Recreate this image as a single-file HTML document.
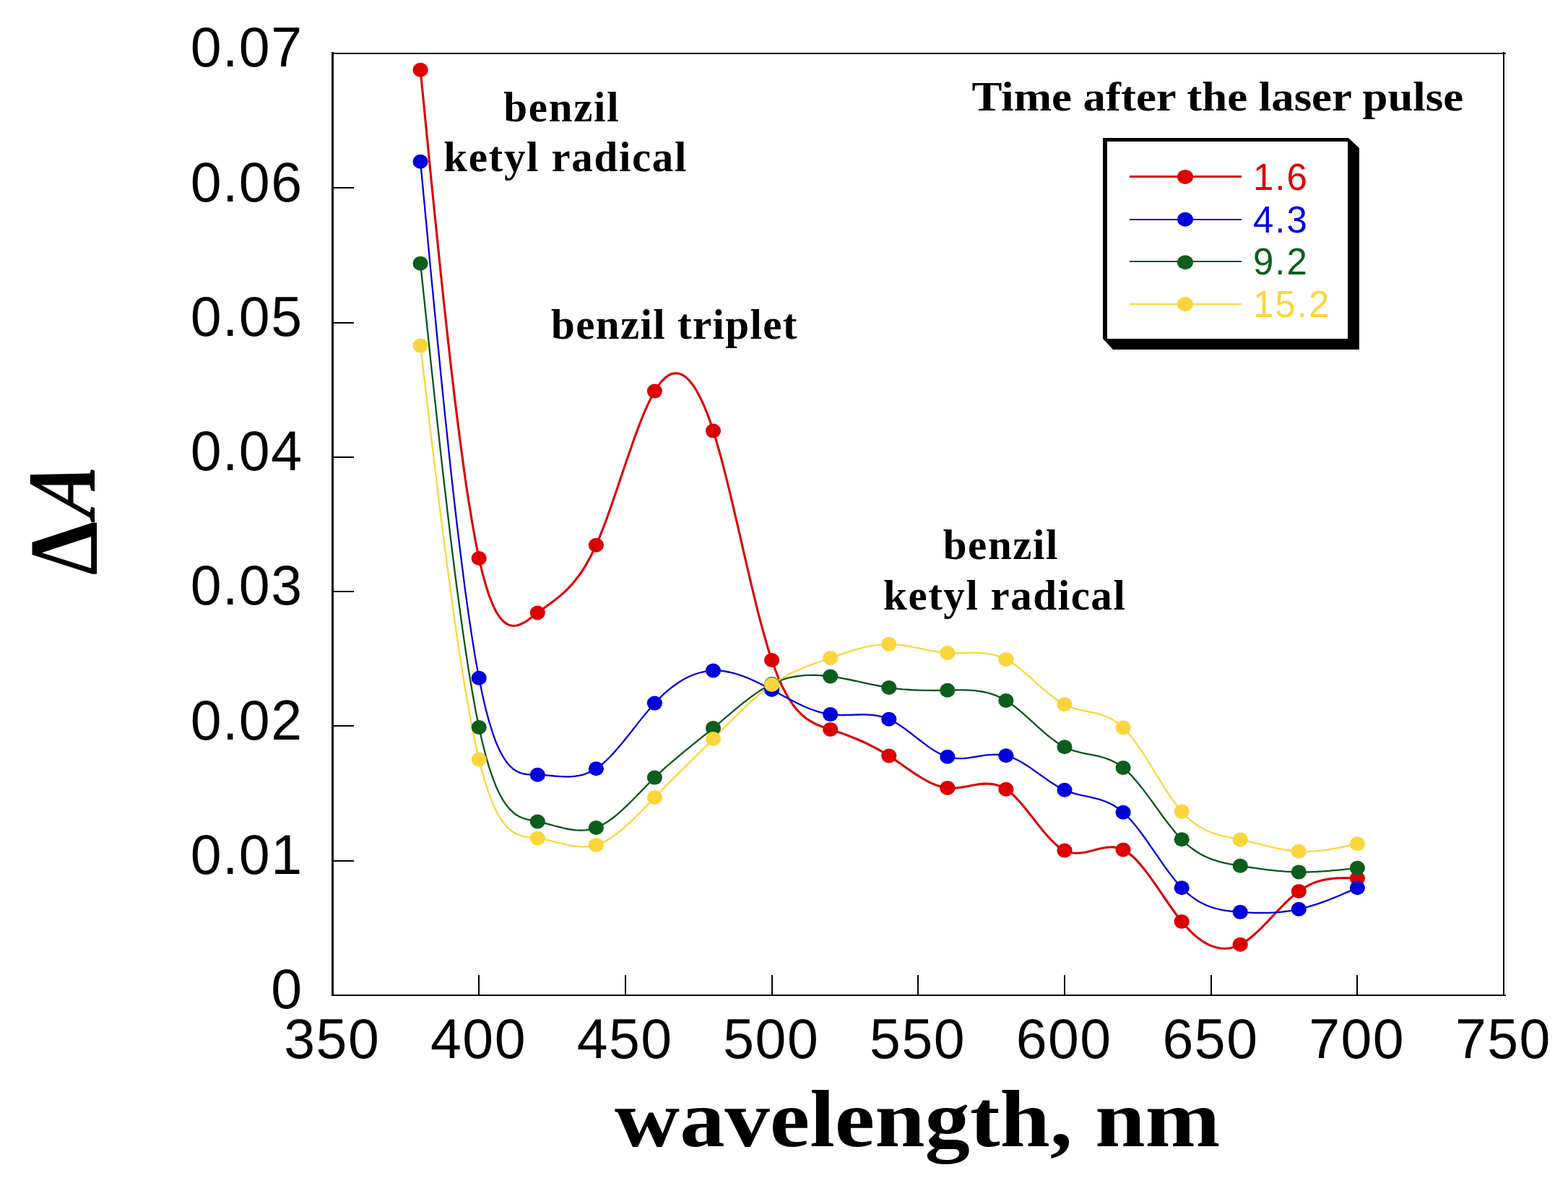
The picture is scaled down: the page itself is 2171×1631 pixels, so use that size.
<!DOCTYPE html>
<html><head><meta charset="utf-8"><title>Transient absorption spectra</title>
<style>
html,body{margin:0;padding:0;background:#fff;}
body{width:2171px;height:1631px;overflow:hidden;}
svg{display:block;}
.sans{font-family:"Liberation Sans",Arial,sans-serif;}
.serif{font-family:"Liberation Serif","Times New Roman",serif;font-weight:bold;}
</style></head><body>
<svg width="2171" height="1631" viewBox="0 0 2171 1631">
<rect x="0" y="0" width="2171" height="1631" fill="#fff"/>

<g fill="#000" shape-rendering="crispEdges">
<rect x="459" y="72" width="3" height="1307"/>
<rect x="459" y="73" width="1626" height="2"/>
<rect x="2081" y="72" width="2" height="1307"/>
<rect x="459" y="1377" width="1626" height="2"/>
<rect x="460" y="1191" width="30" height="2"/>
<rect x="460" y="1004" width="30" height="2"/>
<rect x="460" y="818" width="30" height="2"/>
<rect x="460" y="632" width="30" height="2"/>
<rect x="460" y="446" width="30" height="2"/>
<rect x="460" y="259" width="30" height="2"/>
<rect x="662" y="1350" width="2" height="28"/>
<rect x="865" y="1350" width="2" height="28"/>
<rect x="1068" y="1350" width="2" height="28"/>
<rect x="1270" y="1350" width="2" height="28"/>
<rect x="1473" y="1350" width="2" height="28"/>
<rect x="1676" y="1350" width="2" height="28"/>
<rect x="1878" y="1350" width="2" height="28"/>
</g>
<g class="sans" font-size="77" fill="#000" letter-spacing="1.5">
<text x="419.5" y="1396.3" text-anchor="end">0</text>
<text x="419.5" y="1210.0" text-anchor="end">0.01</text>
<text x="419.5" y="1023.7" text-anchor="end">0.02</text>
<text x="419.5" y="837.4" text-anchor="end">0.03</text>
<text x="419.5" y="651.2" text-anchor="end">0.04</text>
<text x="419.5" y="464.9" text-anchor="end">0.05</text>
<text x="419.5" y="278.6" text-anchor="end">0.06</text>
<text x="419.5" y="92.3" text-anchor="end">0.07</text>
<text x="459.8" y="1465" text-anchor="middle">350</text>
<text x="662.5" y="1465" text-anchor="middle">400</text>
<text x="865.2" y="1465" text-anchor="middle">450</text>
<text x="1067.8" y="1465" text-anchor="middle">500</text>
<text x="1270.6" y="1465" text-anchor="middle">550</text>
<text x="1473.2" y="1465" text-anchor="middle">600</text>
<text x="1676.0" y="1465" text-anchor="middle">650</text>
<text x="1878.7" y="1465" text-anchor="middle">700</text>
<text x="2081.4" y="1465" text-anchor="middle">750</text>
</g>
<text id="wl" class="serif" x="851.1" y="1587.0" font-size="113" textLength="838.3" lengthAdjust="spacingAndGlyphs">wavelength, nm</text>
<text id="dD" class="serif" x="-1.9" y="0" transform="translate(133.8,794.5) rotate(-90) scale(0.88,1.0)" font-size="135">&#916;</text>
<text id="dAA" class="serif" font-style="italic" x="7.0" y="0" transform="translate(130.5,723.8) rotate(-90) skewX(-8) scale(0.8,1.0)" font-size="135">A</text>
<g fill="#000">
<text id="b1" class="serif" x="697.2" y="167.5" font-size="59" textLength="159.4" lengthAdjust="spacing">benzil</text>
<text id="k1" class="serif" x="614.3" y="237.2" font-size="59" textLength="336.0" lengthAdjust="spacing">ketyl radical</text>
<text id="tr" class="serif" x="763.0" y="469.4" font-size="59" textLength="340.4" lengthAdjust="spacing">benzil triplet</text>
<text id="b2" class="serif" x="1305.7" y="774.4" font-size="59" textLength="158.8" lengthAdjust="spacing">benzil</text>
<text id="k2" class="serif" x="1223.1" y="844.1" font-size="59" textLength="334.7" lengthAdjust="spacing">ketyl radical</text>
<text id="ti" class="serif" x="1345.4" y="153.3" font-size="58" textLength="680.8" lengthAdjust="spacingAndGlyphs">Time after the laser pulse</text>
</g>
<polygon points="1527,191 1867,191 1882,205 1882,484 1541,484 1527,469" fill="#000"/>
<rect x="1533" y="196" width="333" height="273" fill="#fff"/>
<line x1="1564" y1="244.5" x2="1719" y2="244.5" stroke="#dc0000" stroke-width="3" shape-rendering="crispEdges"/>
<ellipse cx="1641" cy="244.9" rx="11" ry="10.0" fill="#dc0000"/>
<text class="sans" x="1735" y="263.2" font-size="51" letter-spacing="2" fill="#dc0000">1.6</text>
<line x1="1564" y1="304" x2="1719" y2="304" stroke="#0000dc" stroke-width="2" shape-rendering="crispEdges"/>
<ellipse cx="1641" cy="303.8" rx="11" ry="10.0" fill="#0000dc"/>
<text class="sans" x="1735" y="321.8" font-size="51" letter-spacing="2" fill="#0000dc">4.3</text>
<line x1="1564" y1="362" x2="1719" y2="362" stroke="#055618" stroke-width="2" shape-rendering="crispEdges"/>
<ellipse cx="1641" cy="363.2" rx="11" ry="10.0" fill="#0b5e1c"/>
<text class="sans" x="1735" y="380.2" font-size="51" letter-spacing="2" fill="#0b5e1c">9.2</text>
<line x1="1564" y1="421" x2="1719" y2="421" stroke="#fcd53c" stroke-width="2" shape-rendering="crispEdges"/>
<ellipse cx="1641" cy="421.1" rx="11" ry="10.0" fill="#fcd53c"/>
<text class="sans" x="1735" y="439.2" font-size="51" letter-spacing="2" fill="#fcd53c">15.2</text>
<polyline points="582.1,96.7 586.9,145.4 591.7,193.9 596.4,242.0 601.2,289.6 606.0,336.5 610.7,382.4 615.5,427.2 620.3,470.7 625.0,512.7 629.8,553.0 634.6,591.5 639.4,627.9 644.1,662.2 648.9,694.0 653.7,723.1 658.4,749.6 663.2,773.0 668.0,793.3 672.7,810.7 677.5,825.3 682.3,837.4 687.0,847.1 691.8,854.5 696.6,860.0 701.4,863.7 706.1,865.8 710.9,866.5 715.7,866.0 720.4,864.5 725.2,862.2 730.0,859.2 734.7,855.8 739.5,852.2 744.3,848.5 749.0,844.9 753.8,841.5 758.6,838.0 763.4,834.5 768.1,830.9 772.9,827.1 777.7,823.1 782.4,818.8 787.2,814.1 792.0,808.9 796.7,803.2 801.5,797.0 806.3,790.1 811.1,782.5 815.8,774.1 820.6,764.8 825.4,754.7 830.1,743.6 834.9,731.7 839.7,719.0 844.4,705.8 849.2,692.1 854.0,678.1 858.7,664.0 863.5,649.8 868.3,635.6 873.1,621.7 877.8,608.2 882.6,595.1 887.4,582.6 892.1,570.9 896.9,560.1 901.7,550.3 906.4,541.6 911.2,534.2 916.0,528.1 920.7,523.3 925.5,519.7 930.3,517.5 935.1,516.7 939.8,517.1 944.6,518.9 949.4,522.0 954.1,526.5 958.9,532.4 963.7,539.6 968.4,548.2 973.2,558.2 978.0,569.6 982.8,582.4 987.5,596.6 992.3,612.2 997.1,629.0 1001.8,646.9 1006.6,665.8 1011.4,685.3 1016.1,705.4 1020.9,725.9 1025.7,746.6 1030.4,767.4 1035.2,788.0 1040.0,808.3 1044.8,828.1 1049.5,847.3 1054.3,865.6 1059.1,883.0 1063.8,899.2 1068.6,914.0 1073.4,927.4 1078.1,939.3 1082.9,950.0 1087.7,959.3 1092.4,967.6 1097.2,974.7 1102.0,981.0 1106.8,986.3 1111.5,990.8 1116.3,994.7 1121.1,997.9 1125.8,1000.7 1130.6,1003.0 1135.4,1005.0 1140.1,1006.7 1144.9,1008.4 1149.7,1009.9 1154.4,1011.5 1159.2,1013.1 1164.0,1014.7 1168.8,1016.4 1173.5,1018.2 1178.3,1020.1 1183.1,1022.0 1187.8,1024.0 1192.6,1026.0 1197.4,1028.2 1202.1,1030.5 1206.9,1032.8 1211.7,1035.3 1216.5,1037.9 1221.2,1040.7 1226.0,1043.5 1230.8,1046.5 1235.5,1049.6 1240.3,1052.9 1245.1,1056.2 1249.8,1059.5 1254.6,1062.9 1259.4,1066.2 1264.1,1069.5 1268.9,1072.6 1273.7,1075.6 1278.5,1078.5 1283.2,1081.2 1288.0,1083.6 1292.8,1085.7 1297.5,1087.6 1302.3,1089.1 1307.1,1090.2 1311.8,1090.9 1316.6,1091.2 1321.4,1091.1 1326.1,1090.7 1330.9,1090.1 1335.7,1089.3 1340.5,1088.4 1345.2,1087.5 1350.0,1086.7 1354.8,1085.9 1359.5,1085.4 1364.3,1085.1 1369.1,1085.2 1373.8,1085.6 1378.6,1086.5 1383.4,1088.0 1388.2,1090.0 1392.9,1092.8 1397.7,1096.3 1402.5,1100.4 1407.2,1105.1 1412.0,1110.3 1416.8,1115.8 1421.5,1121.7 1426.3,1127.7 1431.1,1133.8 1435.8,1139.9 1440.6,1145.9 1445.4,1151.8 1450.2,1157.3 1454.9,1162.5 1459.7,1167.2 1464.5,1171.4 1469.2,1174.9 1474.0,1177.6 1478.8,1179.5 1483.5,1180.7 1488.3,1181.3 1493.1,1181.3 1497.8,1180.8 1502.6,1180.0 1507.4,1179.0 1512.2,1177.8 1516.9,1176.5 1521.7,1175.3 1526.5,1174.3 1531.2,1173.4 1536.0,1173.0 1540.8,1172.9 1545.5,1173.5 1550.3,1174.6 1555.1,1176.5 1559.8,1179.2 1564.6,1182.7 1569.4,1186.8 1574.2,1191.6 1578.9,1196.9 1583.7,1202.7 1588.5,1208.9 1593.2,1215.3 1598.0,1222.1 1602.8,1229.0 1607.5,1236.0 1612.3,1243.0 1617.1,1250.0 1621.9,1256.8 1626.6,1263.5 1631.4,1269.9 1636.2,1275.9 1640.9,1281.5 1645.7,1286.7 1650.5,1291.5 1655.2,1295.8 1660.0,1299.6 1664.8,1303.0 1669.5,1305.9 1674.3,1308.4 1679.1,1310.3 1683.9,1311.8 1688.6,1312.8 1693.4,1313.3 1698.2,1313.2 1702.9,1312.7 1707.7,1311.6 1712.5,1310.0 1717.2,1307.8 1722.0,1305.1 1726.8,1301.9 1731.5,1298.3 1736.3,1294.2 1741.1,1289.9 1745.9,1285.3 1750.6,1280.5 1755.4,1275.6 1760.2,1270.5 1764.9,1265.5 1769.7,1260.4 1774.5,1255.5 1779.2,1250.6 1784.0,1246.0 1788.8,1241.6 1793.6,1237.6 1798.3,1233.9 1803.1,1230.6 1807.9,1227.8 1812.6,1225.3 1817.4,1223.1 1822.2,1221.3 1826.9,1219.8 1831.7,1218.6 1836.5,1217.6 1841.2,1216.9 1846.0,1216.3 1850.8,1215.9 1855.6,1215.7 1860.3,1215.6 1865.1,1215.6 1869.9,1215.7 1874.6,1215.8 1879.4,1216.0" fill="none" stroke="#dc0000" stroke-width="3.1" stroke-linejoin="round"/>
<polyline points="582.1,223.7 586.9,274.4 591.7,324.9 596.4,375.1 601.2,424.7 606.0,473.6 610.7,521.6 615.5,568.5 620.3,614.2 625.0,658.4 629.8,701.0 634.6,741.8 639.4,780.6 644.1,817.3 648.9,851.6 653.7,883.4 658.4,912.6 663.2,938.8 668.0,962.0 672.7,982.4 677.5,1000.1 682.3,1015.3 687.0,1028.3 691.8,1039.1 696.6,1047.9 701.4,1055.1 706.1,1060.7 710.9,1064.9 715.7,1068.0 720.4,1070.1 725.2,1071.5 730.0,1072.2 734.7,1072.5 739.5,1072.6 744.3,1072.7 749.0,1072.9 753.8,1073.2 758.6,1073.6 763.4,1074.0 768.1,1074.5 772.9,1074.8 777.7,1075.1 782.4,1075.3 787.2,1075.3 792.0,1075.1 796.7,1074.6 801.5,1073.9 806.3,1072.8 811.1,1071.3 815.8,1069.4 820.6,1067.0 825.4,1064.2 830.1,1060.8 834.9,1057.0 839.7,1052.7 844.4,1048.0 849.2,1042.9 854.0,1037.6 858.7,1032.0 863.5,1026.2 868.3,1020.3 873.1,1014.3 877.8,1008.2 882.6,1002.1 887.4,996.1 892.1,990.2 896.9,984.5 901.7,978.9 906.4,973.6 911.2,968.6 916.0,963.9 920.7,959.4 925.5,955.3 930.3,951.5 935.1,948.0 939.8,944.7 944.6,941.8 949.4,939.1 954.1,936.8 958.9,934.7 963.7,933.0 968.4,931.5 973.2,930.3 978.0,929.4 982.8,928.8 987.5,928.5 992.3,928.5 997.1,928.7 1001.8,929.2 1006.6,930.0 1011.4,931.0 1016.1,932.2 1020.9,933.5 1025.7,935.1 1030.4,936.9 1035.2,938.7 1040.0,940.8 1044.8,942.9 1049.5,945.2 1054.3,947.5 1059.1,950.0 1063.8,952.5 1068.6,955.0 1073.4,957.6 1078.1,960.1 1082.9,962.7 1087.7,965.3 1092.4,967.8 1097.2,970.3 1102.0,972.7 1106.8,975.0 1111.5,977.2 1116.3,979.3 1121.1,981.2 1125.8,983.0 1130.6,984.7 1135.4,986.1 1140.1,987.3 1144.9,988.3 1149.7,989.1 1154.4,989.6 1159.2,989.9 1164.0,990.1 1168.8,990.0 1173.5,989.9 1178.3,989.8 1183.1,989.6 1187.8,989.5 1192.6,989.4 1197.4,989.4 1202.1,989.6 1206.9,989.9 1211.7,990.5 1216.5,991.3 1221.2,992.4 1226.0,993.9 1230.8,995.8 1235.5,998.1 1240.3,1000.7 1245.1,1003.7 1249.8,1006.9 1254.6,1010.3 1259.4,1013.9 1264.1,1017.6 1268.9,1021.3 1273.7,1025.0 1278.5,1028.7 1283.2,1032.2 1288.0,1035.6 1292.8,1038.7 1297.5,1041.5 1302.3,1044.0 1307.1,1046.1 1311.8,1047.8 1316.6,1049.0 1321.4,1049.7 1326.1,1050.1 1330.9,1050.1 1335.7,1049.8 1340.5,1049.3 1345.2,1048.7 1350.0,1048.0 1354.8,1047.2 1359.5,1046.4 1364.3,1045.7 1369.1,1045.2 1373.8,1044.8 1378.6,1044.6 1383.4,1044.8 1388.2,1045.3 1392.9,1046.2 1397.7,1047.6 1402.5,1049.4 1407.2,1051.5 1412.0,1054.0 1416.8,1056.8 1421.5,1059.8 1426.3,1062.9 1431.1,1066.2 1435.8,1069.6 1440.6,1073.0 1445.4,1076.4 1450.2,1079.8 1454.9,1083.0 1459.7,1086.0 1464.5,1088.9 1469.2,1091.5 1474.0,1093.8 1478.8,1095.8 1483.5,1097.4 1488.3,1098.8 1493.1,1100.1 1497.8,1101.2 1502.6,1102.2 1507.4,1103.2 1512.2,1104.3 1516.9,1105.4 1521.7,1106.7 1526.5,1108.2 1531.2,1110.0 1536.0,1112.1 1540.8,1114.5 1545.5,1117.4 1550.3,1120.8 1555.1,1124.7 1559.8,1129.2 1564.6,1134.2 1569.4,1139.7 1574.2,1145.6 1578.9,1151.8 1583.7,1158.3 1588.5,1165.0 1593.2,1171.9 1598.0,1178.8 1602.8,1185.7 1607.5,1192.6 1612.3,1199.4 1617.1,1206.0 1621.9,1212.3 1626.6,1218.3 1631.4,1224.0 1636.2,1229.2 1640.9,1233.9 1645.7,1238.1 1650.5,1241.9 1655.2,1245.3 1660.0,1248.2 1664.8,1250.8 1669.5,1253.1 1674.3,1255.0 1679.1,1256.6 1683.9,1258.0 1688.6,1259.2 1693.4,1260.1 1698.2,1260.9 1702.9,1261.5 1707.7,1262.0 1712.5,1262.5 1717.2,1262.8 1722.0,1263.1 1726.8,1263.4 1731.5,1263.6 1736.3,1263.8 1741.1,1263.9 1745.9,1263.9 1750.6,1263.9 1755.4,1263.8 1760.2,1263.6 1764.9,1263.4 1769.7,1263.0 1774.5,1262.6 1779.2,1262.0 1784.0,1261.4 1788.8,1260.6 1793.6,1259.8 1798.3,1258.8 1803.1,1257.7 1807.9,1256.5 1812.6,1255.2 1817.4,1253.7 1822.2,1252.2 1826.9,1250.6 1831.7,1248.9 1836.5,1247.1 1841.2,1245.3 1846.0,1243.4 1850.8,1241.5 1855.6,1239.5 1860.3,1237.5 1865.1,1235.4 1869.9,1233.4 1874.6,1231.3 1879.4,1229.2" fill="none" stroke="#0000dc" stroke-width="2.3" stroke-linejoin="round"/>
<polyline points="582.1,364.7 586.9,410.1 591.7,455.3 596.4,500.3 601.2,544.7 606.0,588.5 610.7,631.5 615.5,673.6 620.3,714.5 625.0,754.2 629.8,792.5 634.6,829.2 639.4,864.1 644.1,897.1 648.9,928.1 653.7,956.8 658.4,983.2 663.2,1007.0 668.0,1028.2 672.7,1046.8 677.5,1063.1 682.3,1077.2 687.0,1089.3 691.8,1099.5 696.6,1108.1 701.4,1115.1 706.1,1120.7 710.9,1125.2 715.7,1128.7 720.4,1131.3 725.2,1133.2 730.0,1134.6 734.7,1135.7 739.5,1136.6 744.3,1137.5 749.0,1138.5 753.8,1139.7 758.6,1140.9 763.4,1142.2 768.1,1143.5 772.9,1144.7 777.7,1145.9 782.4,1147.0 787.2,1148.0 792.0,1148.7 796.7,1149.3 801.5,1149.6 806.3,1149.6 811.1,1149.3 815.8,1148.6 820.6,1147.5 825.4,1146.0 830.1,1144.0 834.9,1141.6 839.7,1138.7 844.4,1135.5 849.2,1132.0 854.0,1128.1 858.7,1124.0 863.5,1119.7 868.3,1115.2 873.1,1110.5 877.8,1105.7 882.6,1100.8 887.4,1095.9 892.1,1091.0 896.9,1086.1 901.7,1081.3 906.4,1076.6 911.2,1072.0 916.0,1067.6 920.7,1063.2 925.5,1059.0 930.3,1054.8 935.1,1050.8 939.8,1046.8 944.6,1042.8 949.4,1038.9 954.1,1035.1 958.9,1031.2 963.7,1027.4 968.4,1023.6 973.2,1019.7 978.0,1015.8 982.8,1011.9 987.5,1008.0 992.3,1004.0 997.1,1000.0 1001.8,995.9 1006.6,991.8 1011.4,987.8 1016.1,983.8 1020.9,979.8 1025.7,975.9 1030.4,972.1 1035.2,968.4 1040.0,964.8 1044.8,961.4 1049.5,958.1 1054.3,955.0 1059.1,952.1 1063.8,949.4 1068.6,947.0 1073.4,944.8 1078.1,942.9 1082.9,941.2 1087.7,939.7 1092.4,938.4 1097.2,937.3 1102.0,936.5 1106.8,935.8 1111.5,935.3 1116.3,934.9 1121.1,934.8 1125.8,934.7 1130.6,934.9 1135.4,935.1 1140.1,935.5 1144.9,935.9 1149.7,936.5 1154.4,937.2 1159.2,937.9 1164.0,938.7 1168.8,939.6 1173.5,940.5 1178.3,941.5 1183.1,942.5 1187.8,943.5 1192.6,944.6 1197.4,945.6 1202.1,946.6 1206.9,947.6 1211.7,948.6 1216.5,949.5 1221.2,950.4 1226.0,951.2 1230.8,952.0 1235.5,952.7 1240.3,953.3 1245.1,953.8 1249.8,954.3 1254.6,954.7 1259.4,955.0 1264.1,955.3 1268.9,955.5 1273.7,955.7 1278.5,955.8 1283.2,955.9 1288.0,955.9 1292.8,956.0 1297.5,955.9 1302.3,955.9 1307.1,955.8 1311.8,955.7 1316.6,955.6 1321.4,955.5 1326.1,955.4 1330.9,955.4 1335.7,955.4 1340.5,955.6 1345.2,955.8 1350.0,956.2 1354.8,956.8 1359.5,957.5 1364.3,958.5 1369.1,959.7 1373.8,961.2 1378.6,962.9 1383.4,964.9 1388.2,967.3 1392.9,970.0 1397.7,973.1 1402.5,976.5 1407.2,980.1 1412.0,984.0 1416.8,988.1 1421.5,992.3 1426.3,996.6 1431.1,1001.0 1435.8,1005.3 1440.6,1009.6 1445.4,1013.8 1450.2,1017.8 1454.9,1021.7 1459.7,1025.3 1464.5,1028.7 1469.2,1031.7 1474.0,1034.3 1478.8,1036.5 1483.5,1038.4 1488.3,1039.9 1493.1,1041.2 1497.8,1042.3 1502.6,1043.3 1507.4,1044.3 1512.2,1045.2 1516.9,1046.2 1521.7,1047.2 1526.5,1048.5 1531.2,1050.0 1536.0,1051.8 1540.8,1053.9 1545.5,1056.4 1550.3,1059.5 1555.1,1063.0 1559.8,1067.1 1564.6,1071.8 1569.4,1076.9 1574.2,1082.4 1578.9,1088.2 1583.7,1094.4 1588.5,1100.7 1593.2,1107.2 1598.0,1113.8 1602.8,1120.4 1607.5,1127.0 1612.3,1133.5 1617.1,1139.8 1621.9,1145.9 1626.6,1151.8 1631.4,1157.2 1636.2,1162.3 1640.9,1166.9 1645.7,1171.1 1650.5,1174.8 1655.2,1178.2 1660.0,1181.2 1664.8,1183.9 1669.5,1186.2 1674.3,1188.3 1679.1,1190.1 1683.9,1191.7 1688.6,1193.1 1693.4,1194.3 1698.2,1195.4 1702.9,1196.4 1707.7,1197.2 1712.5,1198.0 1717.2,1198.8 1722.0,1199.6 1726.8,1200.3 1731.5,1201.0 1736.3,1201.7 1741.1,1202.4 1745.9,1203.1 1750.6,1203.7 1755.4,1204.3 1760.2,1204.8 1764.9,1205.3 1769.7,1205.8 1774.5,1206.2 1779.2,1206.6 1784.0,1206.9 1788.8,1207.1 1793.6,1207.3 1798.3,1207.4 1803.1,1207.4 1807.9,1207.4 1812.6,1207.3 1817.4,1207.2 1822.2,1207.0 1826.9,1206.7 1831.7,1206.4 1836.5,1206.0 1841.2,1205.7 1846.0,1205.2 1850.8,1204.8 1855.6,1204.3 1860.3,1203.8 1865.1,1203.3 1869.9,1202.8 1874.6,1202.2 1879.4,1201.7" fill="none" stroke="#055618" stroke-width="2.3" stroke-linejoin="round"/>
<polyline points="582.1,478.5 586.9,519.2 591.7,559.7 596.4,599.9 601.2,639.7 606.0,678.9 610.7,717.4 615.5,755.0 620.3,791.6 625.0,827.0 629.8,861.1 634.6,893.8 639.4,924.9 644.1,954.3 648.9,981.8 653.7,1007.2 658.4,1030.5 663.2,1051.5 668.0,1070.1 672.7,1086.3 677.5,1100.4 682.3,1112.5 687.0,1122.8 691.8,1131.4 696.6,1138.5 701.4,1144.3 706.1,1148.8 710.9,1152.3 715.7,1154.9 720.4,1156.8 725.2,1158.1 730.0,1158.9 734.7,1159.5 739.5,1160.0 744.3,1160.6 749.0,1161.3 753.8,1162.2 758.6,1163.3 763.4,1164.4 768.1,1165.6 772.9,1166.8 777.7,1168.0 782.4,1169.1 787.2,1170.1 792.0,1171.0 796.7,1171.7 801.5,1172.2 806.3,1172.4 811.1,1172.3 815.8,1171.9 820.6,1171.1 825.4,1169.9 830.1,1168.3 834.9,1166.2 839.7,1163.7 844.4,1160.9 849.2,1157.7 854.0,1154.2 858.7,1150.5 863.5,1146.5 868.3,1142.2 873.1,1137.8 877.8,1133.2 882.6,1128.5 887.4,1123.7 892.1,1118.8 896.9,1113.9 901.7,1108.9 906.4,1104.0 911.2,1099.1 916.0,1094.2 920.7,1089.4 925.5,1084.6 930.3,1079.9 935.1,1075.1 939.8,1070.4 944.6,1065.7 949.4,1060.9 954.1,1056.2 958.9,1051.5 963.7,1046.8 968.4,1042.1 973.2,1037.3 978.0,1032.6 982.8,1027.8 987.5,1023.0 992.3,1018.2 997.1,1013.3 1001.8,1008.5 1006.6,1003.6 1011.4,998.8 1016.1,994.0 1020.9,989.3 1025.7,984.6 1030.4,980.0 1035.2,975.5 1040.0,971.2 1044.8,966.9 1049.5,962.8 1054.3,958.8 1059.1,955.0 1063.8,951.4 1068.6,948.0 1073.4,944.8 1078.1,941.8 1082.9,938.9 1087.7,936.2 1092.4,933.7 1097.2,931.3 1102.0,929.1 1106.8,927.0 1111.5,924.9 1116.3,923.0 1121.1,921.2 1125.8,919.4 1130.6,917.7 1135.4,916.0 1140.1,914.3 1144.9,912.6 1149.7,911.0 1154.4,909.3 1159.2,907.7 1164.0,906.1 1168.8,904.4 1173.5,902.9 1178.3,901.4 1183.1,899.9 1187.8,898.5 1192.6,897.3 1197.4,896.1 1202.1,895.0 1206.9,894.1 1211.7,893.3 1216.5,892.7 1221.2,892.2 1226.0,892.0 1230.8,891.9 1235.5,892.0 1240.3,892.3 1245.1,892.8 1249.8,893.4 1254.6,894.2 1259.4,895.0 1264.1,895.9 1268.9,896.9 1273.7,897.9 1278.5,898.8 1283.2,899.8 1288.0,900.8 1292.8,901.6 1297.5,902.4 1302.3,903.1 1307.1,903.6 1311.8,904.0 1316.6,904.2 1321.4,904.3 1326.1,904.3 1330.9,904.2 1335.7,904.0 1340.5,903.9 1345.2,903.8 1350.0,903.8 1354.8,903.9 1359.5,904.2 1364.3,904.6 1369.1,905.2 1373.8,906.1 1378.6,907.3 1383.4,908.8 1388.2,910.6 1392.9,912.9 1397.7,915.6 1402.5,918.6 1407.2,922.0 1412.0,925.7 1416.8,929.6 1421.5,933.6 1426.3,937.8 1431.1,942.1 1435.8,946.4 1440.6,950.6 1445.4,954.8 1450.2,958.8 1454.9,962.7 1459.7,966.3 1464.5,969.7 1469.2,972.7 1474.0,975.3 1478.8,977.5 1483.5,979.3 1488.3,980.9 1493.1,982.2 1497.8,983.3 1502.6,984.3 1507.4,985.3 1512.2,986.3 1516.9,987.4 1521.7,988.6 1526.5,990.1 1531.2,991.9 1536.0,994.0 1540.8,996.6 1545.5,999.6 1550.3,1003.3 1555.1,1007.5 1559.8,1012.4 1564.6,1017.9 1569.4,1024.0 1574.2,1030.6 1578.9,1037.5 1583.7,1044.7 1588.5,1052.2 1593.2,1059.9 1598.0,1067.6 1602.8,1075.4 1607.5,1083.0 1612.3,1090.6 1617.1,1097.9 1621.9,1105.0 1626.6,1111.6 1631.4,1117.9 1636.2,1123.6 1640.9,1128.7 1645.7,1133.3 1650.5,1137.4 1655.2,1141.0 1660.0,1144.2 1664.8,1147.0 1669.5,1149.4 1674.3,1151.5 1679.1,1153.3 1683.9,1154.9 1688.6,1156.2 1693.4,1157.4 1698.2,1158.5 1702.9,1159.5 1707.7,1160.5 1712.5,1161.4 1717.2,1162.4 1722.0,1163.4 1726.8,1164.5 1731.5,1165.7 1736.3,1166.9 1741.1,1168.0 1745.9,1169.2 1750.6,1170.4 1755.4,1171.6 1760.2,1172.7 1764.9,1173.8 1769.7,1174.8 1774.5,1175.7 1779.2,1176.6 1784.0,1177.3 1788.8,1178.0 1793.6,1178.4 1798.3,1178.8 1803.1,1179.0 1807.9,1179.0 1812.6,1179.0 1817.4,1178.7 1822.2,1178.4 1826.9,1177.9 1831.7,1177.4 1836.5,1176.7 1841.2,1176.0 1846.0,1175.2 1850.8,1174.3 1855.6,1173.4 1860.3,1172.5 1865.1,1171.4 1869.9,1170.4 1874.6,1169.4 1879.4,1168.3" fill="none" stroke="#fcd53c" stroke-width="2.3" stroke-linejoin="round"/>
<g fill="#dc0000"><ellipse cx="582.1" cy="96.7" rx="10.6" ry="10.0"/><ellipse cx="663.2" cy="773.0" rx="10.6" ry="10.0"/><ellipse cx="744.3" cy="848.5" rx="10.6" ry="10.0"/><ellipse cx="825.4" cy="754.7" rx="10.6" ry="10.0"/><ellipse cx="906.4" cy="541.6" rx="10.6" ry="10.0"/><ellipse cx="987.5" cy="596.6" rx="10.6" ry="10.0"/><ellipse cx="1068.6" cy="914.0" rx="10.6" ry="10.0"/><ellipse cx="1149.7" cy="1009.9" rx="10.6" ry="10.0"/><ellipse cx="1230.8" cy="1046.5" rx="10.6" ry="10.0"/><ellipse cx="1311.8" cy="1090.9" rx="10.6" ry="10.0"/><ellipse cx="1392.9" cy="1092.8" rx="10.6" ry="10.0"/><ellipse cx="1474.0" cy="1177.6" rx="10.6" ry="10.0"/><ellipse cx="1555.1" cy="1176.5" rx="10.6" ry="10.0"/><ellipse cx="1636.2" cy="1275.9" rx="10.6" ry="10.0"/><ellipse cx="1717.2" cy="1307.8" rx="10.6" ry="10.0"/><ellipse cx="1798.3" cy="1233.9" rx="10.6" ry="10.0"/><ellipse cx="1879.4" cy="1216.0" rx="10.6" ry="10.0"/></g>
<g fill="#0000dc"><ellipse cx="582.1" cy="223.7" rx="10.6" ry="10.0"/><ellipse cx="663.2" cy="938.8" rx="10.6" ry="10.0"/><ellipse cx="744.3" cy="1072.7" rx="10.6" ry="10.0"/><ellipse cx="825.4" cy="1064.2" rx="10.6" ry="10.0"/><ellipse cx="906.4" cy="973.6" rx="10.6" ry="10.0"/><ellipse cx="987.5" cy="928.5" rx="10.6" ry="10.0"/><ellipse cx="1068.6" cy="955.0" rx="10.6" ry="10.0"/><ellipse cx="1149.7" cy="989.1" rx="10.6" ry="10.0"/><ellipse cx="1230.8" cy="995.8" rx="10.6" ry="10.0"/><ellipse cx="1311.8" cy="1047.8" rx="10.6" ry="10.0"/><ellipse cx="1392.9" cy="1046.2" rx="10.6" ry="10.0"/><ellipse cx="1474.0" cy="1093.8" rx="10.6" ry="10.0"/><ellipse cx="1555.1" cy="1124.7" rx="10.6" ry="10.0"/><ellipse cx="1636.2" cy="1229.2" rx="10.6" ry="10.0"/><ellipse cx="1717.2" cy="1262.8" rx="10.6" ry="10.0"/><ellipse cx="1798.3" cy="1258.8" rx="10.6" ry="10.0"/><ellipse cx="1879.4" cy="1229.2" rx="10.6" ry="10.0"/></g>
<g fill="#0b5e1c"><ellipse cx="582.1" cy="364.7" rx="10.6" ry="10.0"/><ellipse cx="663.2" cy="1007.0" rx="10.6" ry="10.0"/><ellipse cx="744.3" cy="1137.5" rx="10.6" ry="10.0"/><ellipse cx="825.4" cy="1146.0" rx="10.6" ry="10.0"/><ellipse cx="906.4" cy="1076.6" rx="10.6" ry="10.0"/><ellipse cx="987.5" cy="1008.0" rx="10.6" ry="10.0"/><ellipse cx="1068.6" cy="947.0" rx="10.6" ry="10.0"/><ellipse cx="1149.7" cy="936.5" rx="10.6" ry="10.0"/><ellipse cx="1230.8" cy="952.0" rx="10.6" ry="10.0"/><ellipse cx="1311.8" cy="955.7" rx="10.6" ry="10.0"/><ellipse cx="1392.9" cy="970.0" rx="10.6" ry="10.0"/><ellipse cx="1474.0" cy="1034.3" rx="10.6" ry="10.0"/><ellipse cx="1555.1" cy="1063.0" rx="10.6" ry="10.0"/><ellipse cx="1636.2" cy="1162.3" rx="10.6" ry="10.0"/><ellipse cx="1717.2" cy="1198.8" rx="10.6" ry="10.0"/><ellipse cx="1798.3" cy="1207.4" rx="10.6" ry="10.0"/><ellipse cx="1879.4" cy="1201.7" rx="10.6" ry="10.0"/></g>
<g fill="#fcd53c"><ellipse cx="582.1" cy="478.5" rx="10.6" ry="10.0"/><ellipse cx="663.2" cy="1051.5" rx="10.6" ry="10.0"/><ellipse cx="744.3" cy="1160.6" rx="10.6" ry="10.0"/><ellipse cx="825.4" cy="1169.9" rx="10.6" ry="10.0"/><ellipse cx="906.4" cy="1104.0" rx="10.6" ry="10.0"/><ellipse cx="987.5" cy="1023.0" rx="10.6" ry="10.0"/><ellipse cx="1068.6" cy="948.0" rx="10.6" ry="10.0"/><ellipse cx="1149.7" cy="911.0" rx="10.6" ry="10.0"/><ellipse cx="1230.8" cy="891.9" rx="10.6" ry="10.0"/><ellipse cx="1311.8" cy="904.0" rx="10.6" ry="10.0"/><ellipse cx="1392.9" cy="912.9" rx="10.6" ry="10.0"/><ellipse cx="1474.0" cy="975.3" rx="10.6" ry="10.0"/><ellipse cx="1555.1" cy="1007.5" rx="10.6" ry="10.0"/><ellipse cx="1636.2" cy="1123.6" rx="10.6" ry="10.0"/><ellipse cx="1717.2" cy="1162.4" rx="10.6" ry="10.0"/><ellipse cx="1798.3" cy="1178.8" rx="10.6" ry="10.0"/><ellipse cx="1879.4" cy="1168.3" rx="10.6" ry="10.0"/></g>
</svg>
</body></html>
